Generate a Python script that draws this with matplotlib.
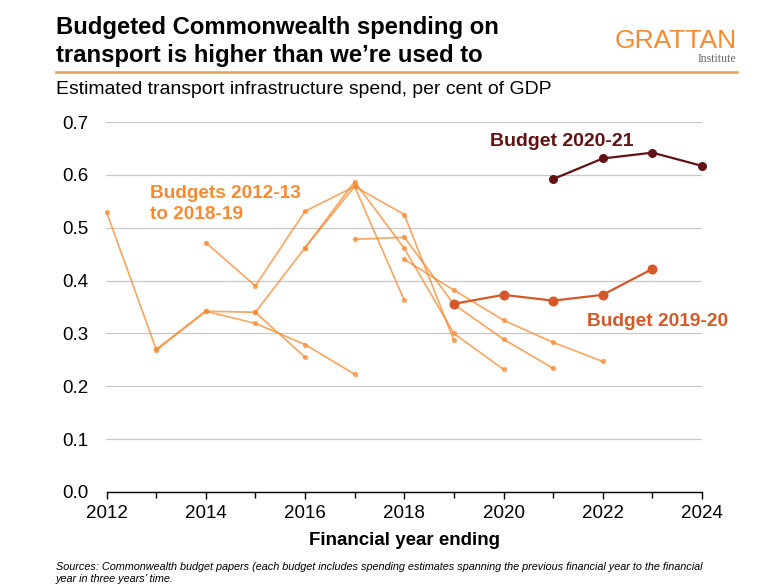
import matplotlib
matplotlib.use('Agg')
import matplotlib.pyplot as plt
from matplotlib.lines import Line2D
from matplotlib.ticker import MultipleLocator, FormatStrFormatter

W, H = 780, 585
plt.rcParams['font.family'] = ['Liberation Sans', 'DejaVu Sans']

# ---------------- data ----------------
title_lines = ['Budgeted Commonwealth spending on',
               'transport is higher than we\u2019re used to']
subtitle = 'Estimated transport infrastructure spend, per cent of GDP'
xlabel = 'Financial year ending'
source_lines = ['Sources: Commonwealth budget papers (each budget includes spending estimates spanning the previous financial year to the financial',
                'year in three years\u2019 time.']

hist_budgets = ['2012-13', '2013-14', '2014-15', '2015-16', '2016-17', '2017-18', '2018-19']
hist_years = [
    [2012, 2013, 2014, 2015, 2016],
    [2013, 2014, 2015, 2016, 2017],
    [2014, 2015, 2016, 2017, 2018],
    [2015, 2016, 2017, 2018, 2019],
    [2016, 2017, 2018, 2019, 2020],
    [2017, 2018, 2019, 2020, 2021],
    [2018, 2019, 2020, 2021, 2022],
]
hist_values = [
    [0.530, 0.270, 0.342, 0.340, 0.255],
    [0.268, 0.342, 0.319, 0.279, 0.223],
    [0.472, 0.390, 0.531, 0.578, 0.363],
    [0.340, 0.462, 0.578, 0.525, 0.287],
    [0.462, 0.587, 0.461, 0.300, 0.232],
    [0.478, 0.482, 0.355, 0.289, 0.234],
    [0.440, 0.382, 0.325, 0.283, 0.247],
]
b1920_years = [2019, 2020, 2021, 2022, 2023]
b1920_values = [0.356, 0.373, 0.362, 0.373, 0.422]
b2021_years = [2021, 2022, 2023, 2024]
b2021_values = [0.592, 0.631, 0.642, 0.617]

hist_label = ['Budgets 2012-13', 'to 2018-19']
b1920_label = 'Budget 2019-20'
b2021_label = 'Budget 2020-21'

yticks = [0.0, 0.1, 0.2, 0.3, 0.4, 0.5, 0.6, 0.7]
xticks = [2012, 2014, 2016, 2018, 2020, 2022, 2024]

# ---------------- style ----------------
c_hist = '#F68B33'
c_1920 = '#D4582A'
c_2021 = '#621214'

fig = plt.figure(figsize=(W / 100, H / 100), dpi=100)
fig.patch.set_facecolor('white')
ax = fig.add_axes([106.5 / W, 1 - 492 / H, (702 - 106.5) / W, (492 - 122) / H])

for yrs, vals in zip(hist_years, hist_values):
    ax.plot(yrs, vals, color=c_hist, alpha=0.75, lw=1.25, marker='o', ms=3.8,
            mew=0, clip_on=False, zorder=3)
ax.plot(b1920_years, b1920_values, color=c_1920, lw=1.6, marker='o', ms=7.2,
        mew=0, clip_on=False, zorder=4)
ax.plot(b2021_years, b2021_values, color=c_2021, lw=1.6, marker='o', ms=6.5,
        mew=0, clip_on=False, zorder=4)

ax.set_xlim(2012, 2024)
ax.set_ylim(0, 0.7)
ax.set_yticks(yticks)
ax.yaxis.set_major_formatter(FormatStrFormatter('%.1f'))
ax.set_xticks(xticks)
ax.xaxis.set_minor_locator(MultipleLocator(1))
ax.yaxis.grid(True, color='#C8C8C8', lw=0.9)
ax.set_axisbelow(True)
for s in ['top', 'right', 'left']:
    ax.spines[s].set_visible(False)
ax.spines['bottom'].set_color('black')
ax.spines['bottom'].set_linewidth(1.0)
ax.tick_params(axis='y', length=0, pad=13, labelsize=13.5)
ax.tick_params(axis='x', which='major', length=5, width=1, direction='out',
               pad=4.5, labelsize=13.5)
ax.tick_params(axis='x', which='minor', length=4, width=1, direction='out')

# annotations
ax.text(2012.876, 0.5556, hist_label[0], color=c_hist, fontsize=13.7,
        fontweight='bold', va='baseline', ha='left')
ax.text(2012.876, 0.5160, hist_label[1], color=c_hist, fontsize=13.7,
        fontweight='bold', va='baseline', ha='left')
ax.text(2021.69, 0.3146, b1920_label, color=c_1920, fontsize=13.8,
        fontweight='bold', va='baseline', ha='left')
ax.text(2019.73, 0.655, b2021_label, color=c_2021, fontsize=14,
        fontweight='bold', va='baseline', ha='left')

# titles etc.
fig.text(56 / W, 1 - 34 / H, title_lines[0], fontsize=17.2, fontweight='bold',
         va='baseline', ha='left')
fig.text(56 / W, 1 - 62 / H, title_lines[1], fontsize=17.2, fontweight='bold',
         va='baseline', ha='left')
fig.add_artist(Line2D([56 / W, 737 / W], [1 - 71.5 / H, 1 - 71.5 / H],
                      color='#E5A052', lw=1.8))
fig.text(56 / W, 1 - 94.5 / H, subtitle, fontsize=13.95, va='baseline', ha='left')

fig.text(737 / W, 1 - 48 / H, 'GRATTAN', ha='right', va='baseline', fontsize=19,
         color=c_hist, fontweight='normal', family=['Liberation Sans', 'DejaVu Sans'])
fig.text(736 / W, 1 - 62 / H, 'Institute', ha='right', va='baseline', fontsize=8.5,
         color='#6b6b6b', family=['Liberation Serif', 'DejaVu Serif'])

fig.text(404 / W, 1 - 545 / H, xlabel, fontsize=13.5, fontweight='bold',
         va='baseline', ha='center')
fig.text(56 / W, 1 - 570 / H, source_lines[0], fontsize=7.8, style='italic',
         va='baseline', ha='left')
fig.text(56 / W, 1 - 582.5 / H, source_lines[1], fontsize=7.8, style='italic',
         va='baseline', ha='left')

fig.savefig('out.png', dpi=100, facecolor='white')
